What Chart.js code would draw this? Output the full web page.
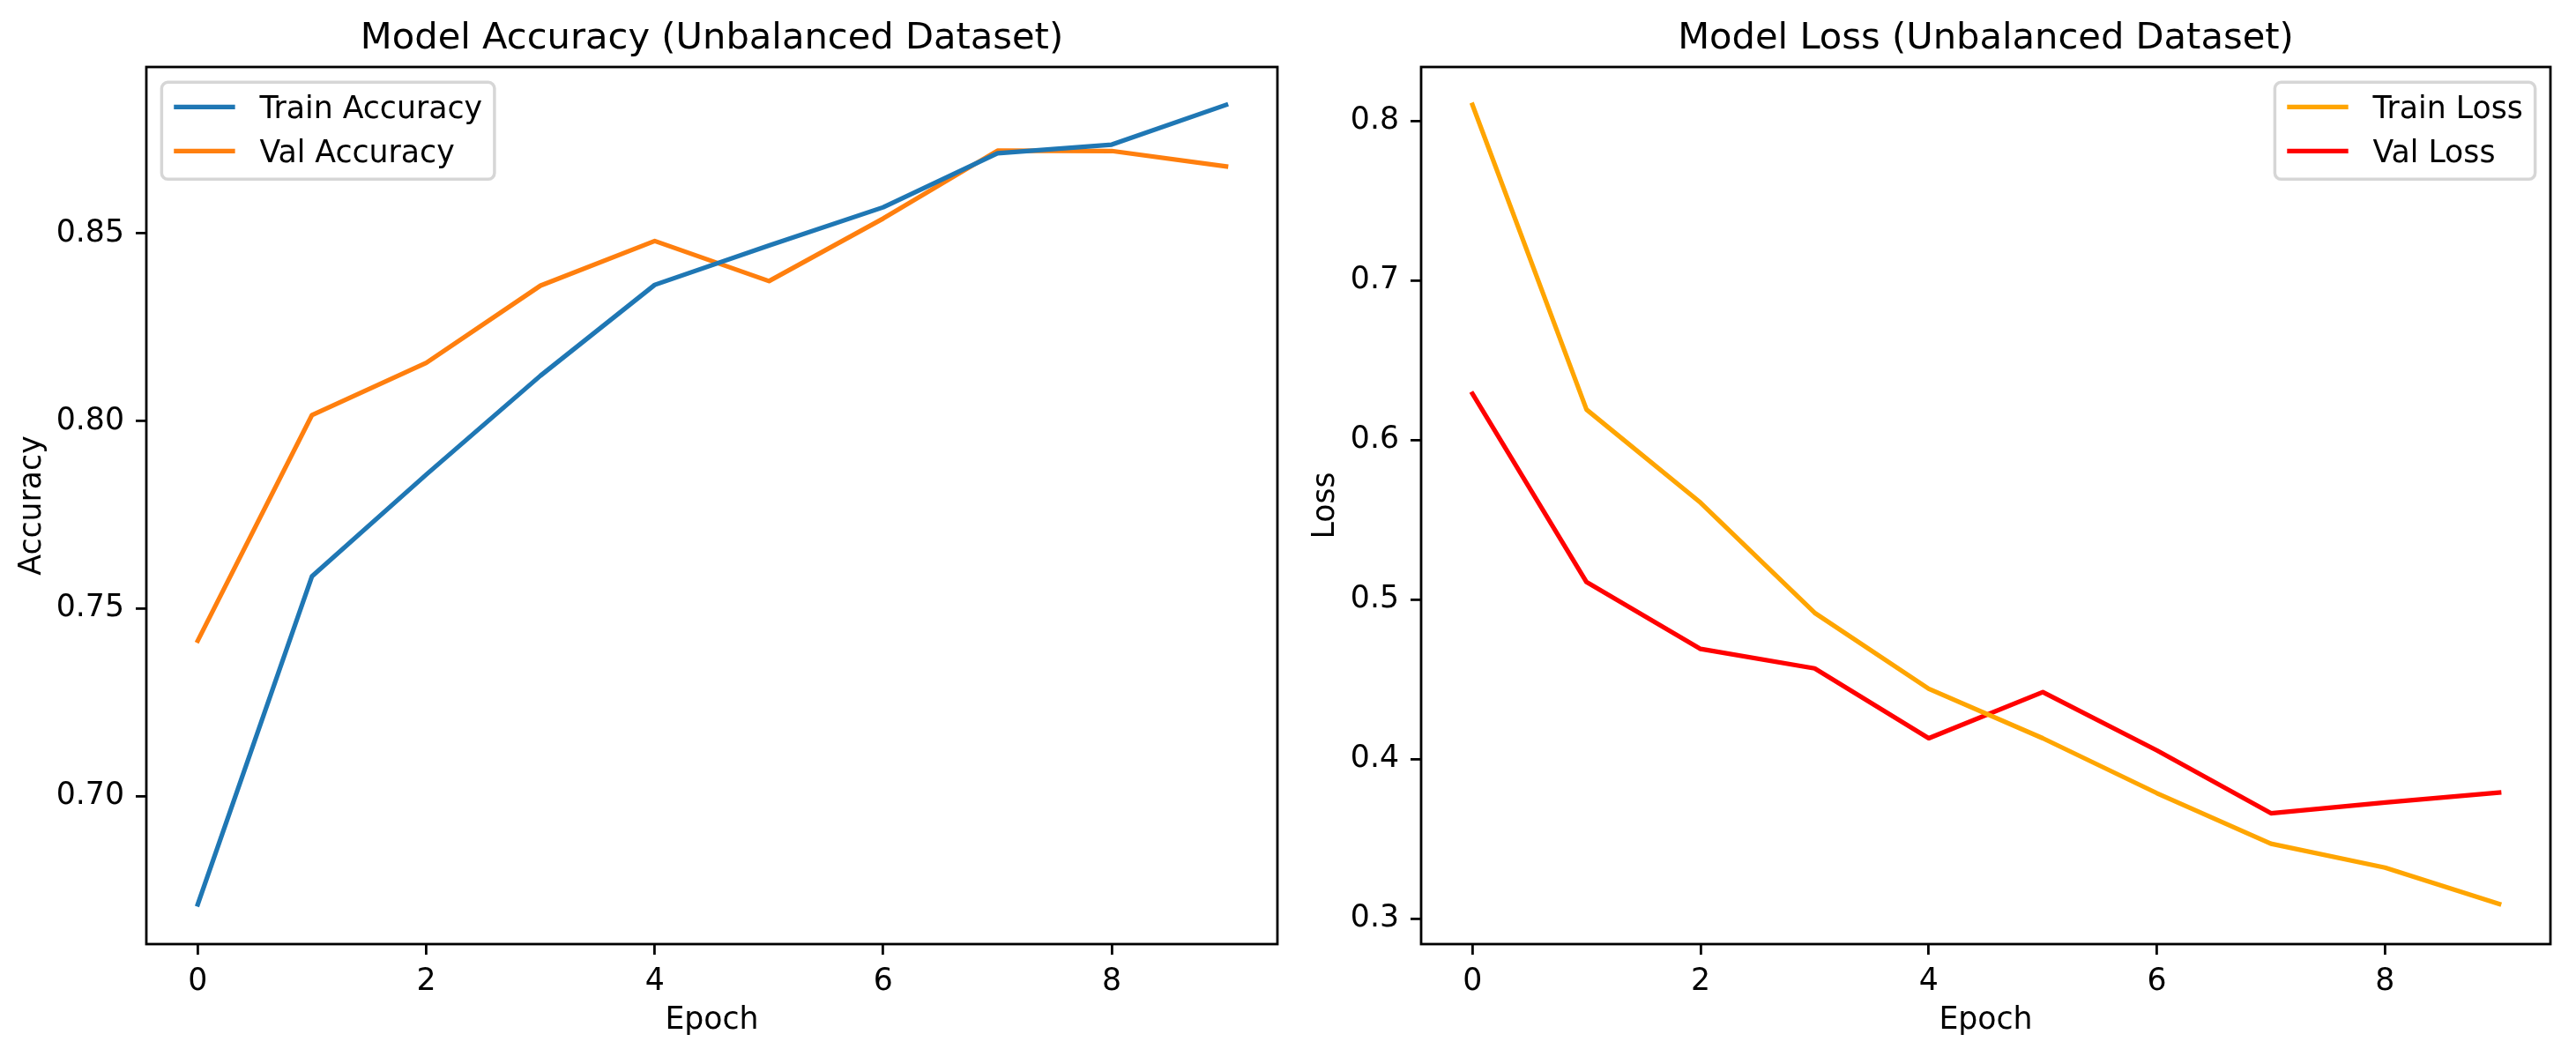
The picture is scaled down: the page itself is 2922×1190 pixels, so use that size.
<!DOCTYPE html>
<html lang="en">
<head>
<meta charset="UTF-8">
<title>Model Accuracy / Loss (Unbalanced Dataset)</title>
<script src="https://cdn.jsdelivr.net/npm/chart.js"></script>
<style>
  body { margin: 0; background: #fff; width: 2922px; height: 1190px; overflow: hidden; position: relative; }
  canvas { position: absolute; top: 0; }
  #acc-chart { left: 0; }
  #loss-chart { left: 1461px; }
</style>
</head>
<body>
<canvas id="acc-chart" width="1461" height="1190"></canvas>
<canvas id="loss-chart" width="1461" height="1190"></canvas>
<script>
const epochs = [0, 1, 2, 3, 4, 5, 6, 7, 8, 9];
const trainAcc = [0.6711, 0.7586, 0.7857, 0.8121, 0.8363, 0.8468, 0.8570, 0.8714, 0.8737, 0.8843];
const valAcc = [0.7414, 0.8016, 0.8155, 0.8361, 0.8480, 0.8373, 0.8540, 0.8721, 0.8720, 0.8679];
const trainLoss = [0.810, 0.619, 0.5606, 0.4916, 0.444, 0.413, 0.3786, 0.3469, 0.3319, 0.3092];
const valLoss = [0.6289, 0.5109, 0.469, 0.4568, 0.413, 0.4419, 0.4054, 0.366, 0.3727, 0.379];
const xTicks = [0, 2, 4, 6, 8];
const accTicks = [0.70, 0.75, 0.80, 0.85];
const lossTicks = [0.3, 0.4, 0.5, 0.6, 0.7, 0.8];

const FONT = '"DejaVu Sans", sans-serif';
const FS = 34.7;      // 10pt at 250 dpi
const LW = 5.2;       // 1.5pt lines
const AX = 2.8;       // 0.8pt spines / ticks

function points(vals) {
  return epochs.map((e, i) => ({ x: e, y: vals[i] }));
}

function drawLegend(ctx, area, items, align) {
  ctx.save();
  ctx.font = FS + 'px ' + FONT;
  const textW = Math.max(...items.map(it => ctx.measureText(it.label).width));
  const pad = 0.4 * FS, hl = 2 * FS, htp = 0.8 * FS, axPad = 0.5 * FS;
  const w = pad + hl + htp + textW + pad;
  const h = 110;
  const x = align === 'left' ? area.left + axPad : area.right - axPad - w;
  const y = area.top + axPad;
  const r = 7;
  ctx.beginPath();
  ctx.moveTo(x + r, y);
  ctx.arcTo(x + w, y, x + w, y + h, r);
  ctx.arcTo(x + w, y + h, x, y + h, r);
  ctx.arcTo(x, y + h, x, y, r);
  ctx.arcTo(x, y, x + w, y, r);
  ctx.closePath();
  ctx.fillStyle = 'rgba(255,255,255,0.8)';
  ctx.fill();
  ctx.lineWidth = 3.5;
  ctx.strokeStyle = 'rgba(204,204,204,0.8)';
  ctx.stroke();
  items.forEach((it, i) => {
    const cy = y + 28 + i * 50;
    ctx.beginPath();
    ctx.moveTo(x + pad, cy);
    ctx.lineTo(x + pad + hl, cy);
    ctx.lineWidth = LW;
    ctx.lineCap = 'butt';
    ctx.strokeStyle = it.color;
    ctx.stroke();
    ctx.fillStyle = '#000';
    ctx.textAlign = 'left';
    ctx.textBaseline = 'alphabetic';
    ctx.fillText(it.label, x + pad + hl + htp, cy + 0.3645 * FS);
  });
  ctx.restore();
}

const decorPlugin = {
  id: 'decor',
  afterDatasetsDraw(chart) {
    const ctx = chart.ctx;
    const a = chart.chartArea;
    const o = chart.options.plugins.decor;
    ctx.save();
    // frame
    ctx.lineWidth = AX;
    ctx.strokeStyle = '#000';
    ctx.strokeRect(a.left, a.top, a.right - a.left, a.bottom - a.top);
    // title
    ctx.fillStyle = '#000';
    ctx.textAlign = 'center';
    ctx.textBaseline = 'alphabetic';
    ctx.font = (FS * 1.2) + 'px ' + FONT;
    ctx.fillText(o.title, (a.left + a.right) / 2, a.top - 20.8);
    // axis labels
    ctx.font = FS + 'px ' + FONT;
    ctx.fillText(o.xTitle, (a.left + a.right) / 2, 1167);
    ctx.translate(o.yTitleX, (a.top + a.bottom) / 2);
    ctx.rotate(-Math.PI / 2);
    ctx.fillText(o.yTitle, 0, 0);
    ctx.restore();
    drawLegend(ctx, a, chart.data.datasets.map(d => ({ label: d.label, color: d.borderColor })), o.legendAlign);
  }
};

function makeChart(id, cfg) {
  const line = (label, vals, color) => ({
    label: label,
    data: points(vals),
    borderColor: color,
    backgroundColor: color,
    borderWidth: LW,
    pointRadius: 0,
    tension: 0,
    borderJoinStyle: 'round',
    borderCapStyle: 'square'
  });
  const tickFont = { family: FONT, size: FS };
  return new Chart(document.getElementById(id), {
    type: 'line',
    data: { datasets: [line(cfg.labels[0], cfg.series[0], cfg.colors[0]), line(cfg.labels[1], cfg.series[1], cfg.colors[1])] },
    plugins: [decorPlugin],
    options: {
      responsive: false,
      devicePixelRatio: 1,
      animation: false,
      events: [],
      layout: { padding: { top: 76, left: 0, right: cfg.padRight, bottom: 0 } },
      plugins: {
        legend: { display: false },
        tooltip: { enabled: false },
        decor: { title: cfg.title, xTitle: 'Epoch', yTitle: cfg.yTitle, yTitleX: cfg.yTitleX, legendAlign: cfg.legendAlign }
      },
      scales: {
        x: {
          type: 'linear',
          min: -0.45,
          max: 9.45,
          afterBuildTicks: s => { s.ticks = xTicks.map(v => ({ value: v })); },
          afterFit: s => { s.height = 119; },
          grid: { drawOnChartArea: false, drawTicks: true, tickLength: 12, color: '#000', lineWidth: AX },
          border: { display: false },
          ticks: { color: '#000', font: tickFont, padding: 10, maxRotation: 0, callback: v => String(v) }
        },
        y: {
          type: 'linear',
          min: cfg.min,
          max: cfg.max,
          afterBuildTicks: s => { s.ticks = cfg.yTicks.map(v => ({ value: v })); },
          afterFit: s => { s.width = cfg.yWidth; },
          grid: { drawOnChartArea: false, drawTicks: true, tickLength: 12, color: '#000', lineWidth: AX },
          border: { display: false },
          ticks: { color: '#000', font: tickFont, padding: 13, callback: v => v.toFixed(cfg.decimals) }
        }
      }
    }
  });
}

makeChart('acc-chart', {
  title: 'Model Accuracy (Unbalanced Dataset)',
  yTitle: 'Accuracy',
  labels: ['Train Accuracy', 'Val Accuracy'],
  series: [trainAcc, valAcc],
  colors: ['#1f77b4', '#ff7f0e'],
  yTicks: accTicks,
  min: 0.6605,
  max: 0.8944,
  decimals: 2,
  yWidth: 166,
  padRight: 12,
  yTitleX: 46,
  legendAlign: 'left'
});

makeChart('loss-chart', {
  title: 'Model Loss (Unbalanced Dataset)',
  yTitle: 'Loss',
  labels: ['Train Loss', 'Val Loss'],
  series: [trainLoss, valLoss],
  colors: ['#ffa500', '#ff0000'],
  yTicks: lossTicks,
  min: 0.284,
  max: 0.8337,
  decimals: 1,
  yWidth: 151,
  padRight: 29,
  yTitleX: 52,
  legendAlign: 'right'
});
</script>
</body>
</html>
